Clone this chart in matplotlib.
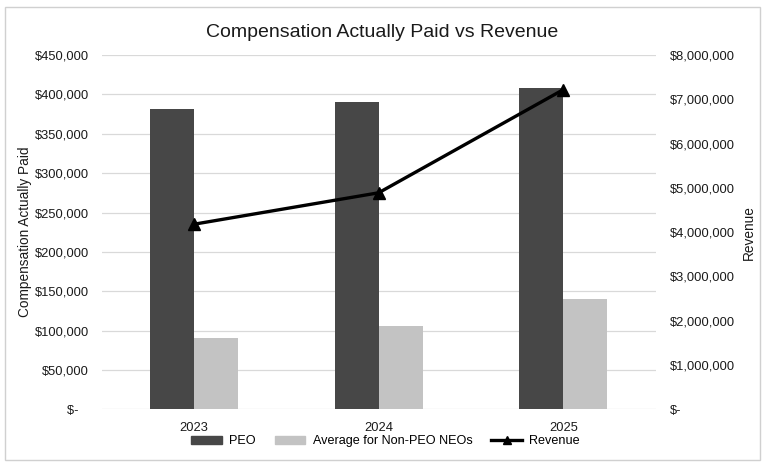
import matplotlib
matplotlib.use("Agg")
import matplotlib.pyplot as plt
import numpy as np
from matplotlib.patches import Rectangle
from matplotlib.lines import Line2D
from matplotlib.ticker import FuncFormatter

plt.rcParams['font.family'] = ['Liberation Sans', 'DejaVu Sans']

years = ["2023", "2024", "2025"]
peo = [381000, 391000, 408000]
non_peo = [90000, 106000, 140000]
revenue = [4180000, 4890000, 7220000]

title = "Compensation Actually Paid vs Revenue"
left_label = "Compensation Actually Paid"
right_label = "Revenue"
series_names = ["PEO", "Average for Non-PEO NEOs", "Revenue"]

c_peo = "#474747"
c_non = "#c3c3c3"
c_grid = "#d9d9d9"

fig = plt.figure(figsize=(7.65, 4.63), dpi=100)
ax = fig.add_axes([0.1328, 0.116, 0.7243, 0.765])
ax2 = ax.twinx()

x = np.arange(len(years))
w = 0.238
ax.bar(x - w / 2, peo, width=w, color=c_peo, zorder=2)
ax.bar(x + w / 2, non_peo, width=w, color=c_non, zorder=2)
ax.set_xlim(-0.5, len(years) - 0.5)
ax.set_ylim(0, 450000)
ax.set_yticks(np.arange(0, 450001, 50000))

def left_fmt(v, p):
    return "$-   " if v == 0 else "${:,.0f}".format(v)

def right_fmt(v, p):
    return "$-" if v == 0 else "${:,.0f}".format(v)

ax.yaxis.set_major_formatter(FuncFormatter(left_fmt))
ax.grid(axis='y', color=c_grid, linewidth=0.9, zorder=0)
ax.set_axisbelow(True)
ax.set_xticks(x)
ax.set_xticklabels(years)

ax2.plot(x, revenue, color="black", linewidth=2.4, marker="^", markersize=9, zorder=5)
ax2.set_ylim(0, 8000000)
ax2.set_yticks(np.arange(0, 8000001, 1000000))
ax2.yaxis.set_major_formatter(FuncFormatter(right_fmt))

for a in (ax, ax2):
    for s in a.spines.values():
        s.set_visible(False)
    a.tick_params(length=0, labelsize=9.3, colors="#1a1a1a")
ax.tick_params(axis='y', pad=9)
ax.tick_params(axis='x', pad=9)
ax2.tick_params(axis='y', pad=10)

ax.set_ylabel(left_label, fontsize=9.8, color="#1a1a1a", labelpad=2)
ax2.set_ylabel(right_label, fontsize=9.8, color="#1a1a1a", rotation=90, labelpad=5)

fig.text(0.5, 0.93, title, ha="center", va="center", fontsize=14, color="#1a1a1a")

handles = [Rectangle((0, 0), 1, 1, color=c_peo),
           Rectangle((0, 0), 1, 1, color=c_non),
           Line2D([0], [0], color="black", linewidth=2.4, marker="^", markersize=6)]
fig.legend(handles, series_names, loc="center", bbox_to_anchor=(0.504, 0.047), ncol=3,
           frameon=False, fontsize=9.1, handlelength=2.4, handleheight=0.6,
           columnspacing=1.5, handletextpad=0.6)

fig.add_artist(Rectangle((0.006, 0.007), 0.988, 0.978, transform=fig.transFigure,
                         fill=False, edgecolor="#d0d0d0", linewidth=1))

fig.savefig("out.png", dpi=100)
